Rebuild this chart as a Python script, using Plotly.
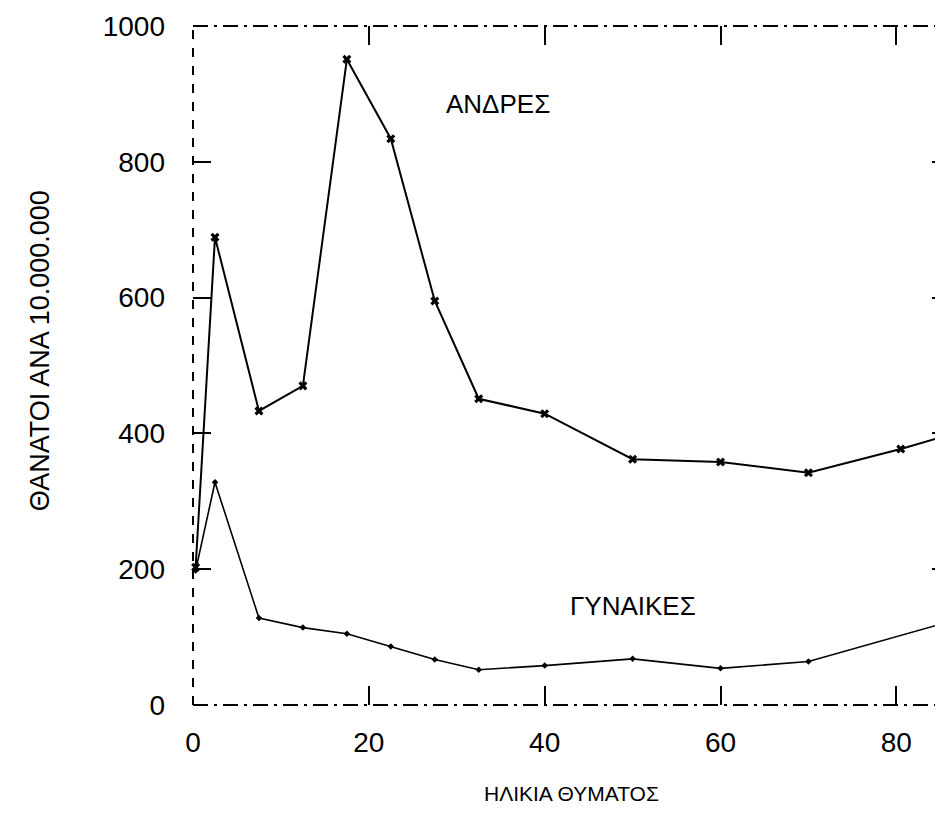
import plotly.graph_objects as go

# ---- data ----
ages_men = [0.3, 2.5, 7.5, 12.5, 17.5, 22.5, 27.5, 32.5, 40, 50, 60, 70, 80.5, 85]
deaths_men = [203, 689, 433, 470, 951, 834, 595, 451, 429, 362, 358, 342, 377, 394]
ages_women = [0.3, 2.5, 7.5, 12.5, 17.5, 22.5, 27.5, 32.5, 40, 50, 60, 70, 85]
deaths_women = [198, 328, 128, 114, 105, 86, 67, 52, 58, 68, 54, 64, 119]

x_ticks = [0, 20, 40, 60, 80]
y_ticks = [0, 200, 400, 600, 800, 1000]

label_men = "ΑΝΔΡΕΣ"
label_women = "ΓΥΝΑΙΚΕΣ"
x_title = "ΗΛΙΚΙΑ ΘΥΜΑΤΟΣ"
y_title = "ΘΑΝΑΤΟΙ ΑΝΑ 10.000.000"

TICKFONT = dict(family="Liberation Sans, Arial, sans-serif", size=28, color="black")
TEXTFONT = dict(family="Liberation Sans, Arial, sans-serif", size=26, color="black")
XTITLEFONT = dict(family="Liberation Sans, Arial, sans-serif", size=21, color="black")
YTITLEFONT = dict(family="Liberation Sans, Arial, sans-serif", size=27, color="black")

fig = go.Figure()
fig.add_trace(go.Scatter(
    x=ages_men, y=deaths_men, mode="lines+markers",
    line=dict(color="black", width=2),
    marker=dict(symbol="x", size=8, color="black"),
    showlegend=False, cliponaxis=False,
))
fig.add_trace(go.Scatter(
    x=ages_women, y=deaths_women, mode="lines+markers",
    line=dict(color="black", width=1.6),
    marker=dict(symbol="diamond", size=5, color="black"),
    showlegend=False, cliponaxis=False,
))

fig.update_xaxes(
    range=[0, 86.1], tickvals=x_ticks, ticks="inside", ticklen=19, tickwidth=2,
    tickcolor="black", mirror="ticks", showline=False, showgrid=False, zeroline=False,
    tickfont=TICKFONT, ticklabelstandoff=18,
)
fig.update_yaxes(
    range=[0, 1000], tickvals=y_ticks, ticks="inside", ticklen=18, tickwidth=2,
    tickcolor="black", mirror="ticks", showline=False, showgrid=False, zeroline=False,
    tickfont=TICKFONT, ticklabelstandoff=27,
)

# box edges drawn in broken styles like the scanned original
box = [
    dict(x0=0, y0=0, x1=0, y1=1, dash="dash"),
    dict(x0=1, y0=0, x1=1, y1=1, dash="dash"),
    dict(x0=0, y0=1, x1=1, y1=1, dash="longdashdot"),
    dict(x0=0, y0=0, x1=1, y1=0, dash="longdashdot"),
]
for b in box:
    fig.add_shape(type="line", xref="paper", yref="paper",
                  x0=b["x0"], y0=b["y0"], x1=b["x1"], y1=b["y1"],
                  line=dict(color="black", width=2, dash=b["dash"]), layer="above")

fig.add_annotation(x=34.7, y=885, xref="x", yref="y", text=label_men,
                   showarrow=False, font=TEXTFONT, xanchor="center", yanchor="middle")
fig.add_annotation(x=50.0, y=146, xref="x", yref="y", text=label_women,
                   showarrow=False, font=TEXTFONT, xanchor="center", yanchor="middle")
fig.add_annotation(x=0.5, y=-0.13, xref="paper", yref="paper", text=x_title,
                   showarrow=False, font=XTITLEFONT, xanchor="center", yanchor="middle")
fig.add_annotation(x=-0.202, y=0.521, xref="paper", yref="paper", text=y_title,
                   showarrow=False, font=YTITLEFONT, textangle=-90,
                   xanchor="center", yanchor="middle")

fig.update_layout(
    width=943, height=831, autosize=False,
    margin=dict(l=185, r=1, t=18, b=134),
    paper_bgcolor="white", plot_bgcolor="white",
)

fig.write_html("out.html")
